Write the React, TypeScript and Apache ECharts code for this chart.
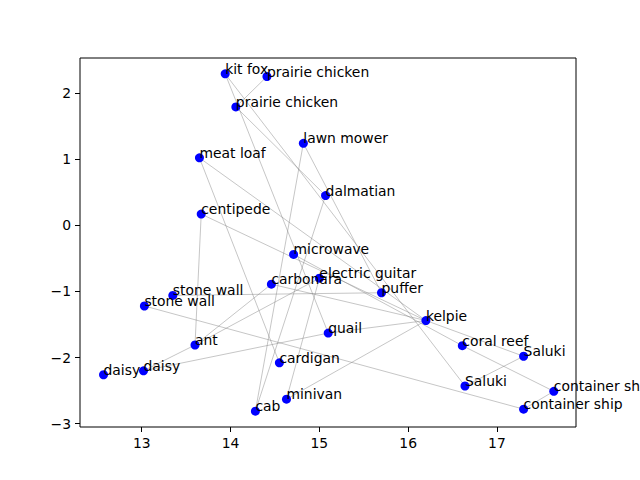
import React, { useEffect, useRef } from 'react';
import * as echarts from 'echarts';

// point labels with their x / y positions
const names: string[] = [
  'kit fox', 'prairie chicken', 'prairie chicken', 'lawn mower', 'meat loaf',
  'dalmatian', 'centipede', 'microwave', 'carbonara', 'electric guitar',
  'stone wall', 'stone wall', 'puffer', 'kelpie', 'quail',
  'ant', 'coral reef', 'Saluki', 'cardigan', 'daisy',
  'daisy', 'Saluki', 'container ship', 'minivan', 'container ship', 'cab',
];
const xs: number[] = [
  13.94, 14.41, 14.06, 14.82, 13.65,
  15.07, 13.67, 14.71, 14.46, 15.0,
  13.35, 13.03, 15.7, 16.2, 15.1,
  13.6, 16.61, 17.3, 14.55, 13.02,
  12.57, 16.64, 17.64, 14.63, 17.3, 14.28,
];
const ys: number[] = [
  2.29, 2.25, 1.79, 1.24, 1.02,
  0.45, 0.17, -0.44, -0.89, -0.8,
  -1.06, -1.22, -1.02, -1.44, -1.63,
  -1.81, -1.82, -1.98, -2.08, -2.2,
  -2.26, -2.43, -2.51, -2.63, -2.78, -2.81,
];
// pairs of point indices joined by a thin grey line
const edges: [number, number][] = [
  [1, 2], [0, 21], [0, 14], [2, 5], [5, 25], [3, 25], [3, 12],
  [4, 18], [4, 13], [6, 15], [6, 13], [7, 16], [16, 22], [8, 13],
  [15, 8], [15, 9], [15, 19], [19, 14], [14, 13], [23, 13], [23, 9],
  [10, 12], [11, 24], [22, 24], [13, 17], [17, 21],
];
const xTicks: number[] = [13, 14, 15, 16, 17];
const yTicks: number[] = [-3, -2, -1, 0, 1, 2];

const font = 'DejaVu Sans';

const App: React.FC = () => {
  const chartRef = useRef<HTMLDivElement | null>(null);

  useEffect(() => {
    const chart = echarts.init(chartRef.current!, undefined, { renderer: 'svg' });

    const points = names.map((n, i) => [xs[i], ys[i], n]);
    const segs = edges.map(([a, b]) => ({
      coords: [[xs[a], ys[a]], [xs[b], ys[b]]],
    }));

    const axisCommon = {
      type: 'value' as const,
      splitLine: { show: false },
      axisLine: { show: false, onZero: false },
      axisTick: { length: 5, lineStyle: { color: '#000', width: 1 } },
      axisLabel: {
        color: '#000', fontSize: 13.9, fontFamily: font, margin: 9,
        formatter: (v: number) => String(v).replace('-', '\u2212'),
      },
    };

    const option: echarts.EChartsOption = {
      animation: false,
      grid: {
        left: 80, right: 64, top: 58, bottom: 53,
        show: true, borderColor: '#000', borderWidth: 1, backgroundColor: '#fff',
      },
      xAxis: {
        ...axisCommon,
        position: 'bottom',
        min: 12.305,
        max: 17.89,
        axisTick: { ...axisCommon.axisTick, customValues: xTicks },
        axisLabel: { ...axisCommon.axisLabel, customValues: xTicks },
      },
      yAxis: {
        ...axisCommon,
        position: 'left',
        min: -3.05,
        max: 2.53,
        axisTick: { ...axisCommon.axisTick, customValues: yTicks },
        axisLabel: { ...axisCommon.axisLabel, customValues: yTicks },
      },
      series: [
        {
          type: 'lines',
          coordinateSystem: 'cartesian2d',
          data: segs,
          lineStyle: { color: '#808080', width: 0.6, opacity: 0.75 },
          z: 1,
          silent: true,
        },
        {
          type: 'scatter',
          data: points,
          symbolSize: 9,
          itemStyle: { color: '#0000ff', opacity: 1 },
          label: {
            show: true,
            formatter: (p: any) => p.data[2],
            position: [4.5, 6.5],
            align: 'left',
            verticalAlign: 'bottom',
            color: '#000',
            fontSize: 13.9,
            fontFamily: font,
          },
          z: 2,
        },
      ],
    };

    chart.setOption(option);

    return () => {
      chart.dispose();
    };
  }, []);

  return (
    <div
      ref={chartRef}
      style={{ width: '640px', height: '480px', position: 'fixed', left: 0, top: 0, background: '#fff' }}
    />
  );
};

export default App;
